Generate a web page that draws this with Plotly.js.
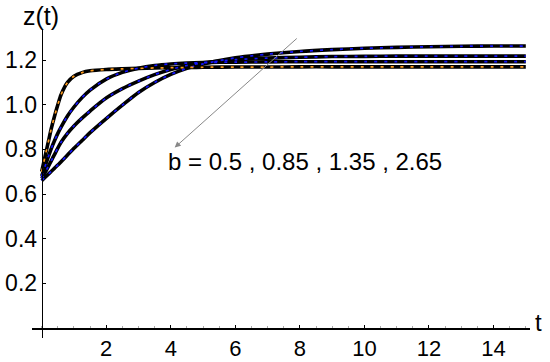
<!DOCTYPE html>
<html>
<head>
<meta charset="utf-8">
<script src="https://cdn.plot.ly/plotly-3.0.1.min.js"></script>
<style>html,body{margin:0;padding:0;background:#fff;}#chart{width:550px;height:362px;}</style>
</head>
<body>
<div id="chart"></div>
<script>
// time samples
var tVals = [0, 0.1, 0.2, 0.3, 0.4, 0.5, 0.6, 0.8, 1.0, 1.25, 1.5, 2, 2.5, 3, 3.5, 4, 4.5, 5, 6, 7, 8, 9, 10, 11, 12, 13, 14, 15];
// series
var zB050 = [0.660, 0.674, 0.688, 0.702, 0.716, 0.730, 0.745, 0.775, 0.805, 0.840, 0.875, 0.938, 0.998, 1.055, 1.100, 1.136, 1.163, 1.183, 1.210, 1.227, 1.239, 1.247, 1.253, 1.257, 1.260, 1.262, 1.263, 1.263];
var zB085 = [0.670, 0.695, 0.722, 0.750, 0.778, 0.806, 0.832, 0.872, 0.905, 0.940, 0.972, 1.030, 1.072, 1.106, 1.135, 1.158, 1.176, 1.188, 1.202, 1.209, 1.213, 1.216, 1.217, 1.218, 1.218, 1.218, 1.218, 1.218];
var zB135 = [0.680, 0.722, 0.765, 0.805, 0.840, 0.872, 0.900, 0.950, 0.990, 1.032, 1.066, 1.115, 1.145, 1.164, 1.176, 1.183, 1.187, 1.189, 1.191, 1.192, 1.193, 1.193, 1.193, 1.193, 1.193, 1.193, 1.193, 1.193];
var zB265 = [0.700, 0.765, 0.830, 0.895, 0.950, 1.000, 1.045, 1.100, 1.128, 1.144, 1.152, 1.158, 1.161, 1.163, 1.165, 1.166, 1.167, 1.168, 1.169, 1.169, 1.170, 1.170, 1.170, 1.170, 1.170, 1.170, 1.170, 1.170];
var seriesList = [zB050, zB085, zB135, zB265];
var overlayColors = ['#1414ff', '#1414ff', '#1414ff', '#ff9a1a'];
var xTicks = [2, 4, 6, 8, 10, 12, 14];
var yTicks = [0.2, 0.4, 0.6, 0.8, 1.0, 1.2];
var yTickText = ['0.2', '0.4', '0.6', '0.8', '1.0', '1.2'];
var annText = 'b = 0.5 , 0.85 , 1.35 , 2.65';

var traces = [];
seriesList.forEach(function (s) {
  traces.push({x: tVals, y: s, type: 'scatter', mode: 'lines',
    line: {color: '#000', width: 3.6, shape: 'spline', smoothing: 0.8}, hoverinfo: 'skip'});
});
seriesList.forEach(function (s, i) {
  traces.push({x: tVals, y: s, type: 'scatter', mode: 'lines',
    line: {color: overlayColors[i], width: 1.7, dash: '3px,7px', shape: 'spline', smoothing: 0.8}, hoverinfo: 'skip'});
});

var W = 550, H = 362, mL = 31.6, mR = 20, mT = 30, mB = 24;
function pxX(px) { return (px - mL) / (W - mL - mR); }
function pxY(py) { return (H - mB - py) / (H - mT - mB); }

var xr = [-0.3, 15.13], yr = [-0.045, 1.335];
var fam = 'Liberation Sans, Arial, sans-serif';
var layout = {
  width: W, height: H,
  margin: {l: mL, r: mR, t: mT, b: mB},
  paper_bgcolor: '#fff', plot_bgcolor: '#fff',
  showlegend: false,
  font: {family: fam, color: '#000'},
  xaxis: {range: xr, anchor: 'free', position: (0 - yr[0]) / (yr[1] - yr[0]),
    showgrid: false, zeroline: false, showline: true, linecolor: '#000', linewidth: 1.6,
    tickvals: xTicks, ticks: 'inside', ticklen: 3, tickcolor: '#000', tickwidth: 1,
    tickfont: {size: 22, family: fam, color: '#000'},
    minor: {dtick: 0.5, ticks: 'inside', ticklen: 2, tickcolor: '#aaa', tick0: 0}},
  yaxis: {range: yr, anchor: 'free', position: (0 - xr[0]) / (xr[1] - xr[0]),
    showgrid: false, zeroline: false, showline: true, linecolor: '#000', linewidth: 1.6,
    tickvals: yTicks, ticktext: yTickText, ticks: 'inside', ticklen: 3, tickcolor: '#000', tickwidth: 1,
    tickfont: {size: 23, family: fam, color: '#000'}},
  annotations: [
    {x: 4.12, y: 0.808, ax: 7.95, ay: 1.303, xref: 'x', yref: 'y', axref: 'x', ayref: 'y',
      text: '', showarrow: true, arrowhead: 2, arrowsize: 1.2, arrowwidth: 1, arrowcolor: '#888'},
    {x: 3.85, y: 0.748, xref: 'x', yref: 'y', text: annText, showarrow: false,
      xanchor: 'left', yanchor: 'middle', font: {size: 24, color: '#000'}},
    {x: pxX(41), y: pxY(16), xref: 'paper', yref: 'paper', text: 'z(t)', showarrow: false,
      xanchor: 'center', yanchor: 'middle', font: {size: 25, color: '#000'}},
    {x: pxX(539), y: pxY(322), xref: 'paper', yref: 'paper', text: 't', showarrow: false,
      xanchor: 'center', yanchor: 'middle', font: {size: 24, color: '#000'}}
  ]
};
Plotly.newPlot('chart', traces, layout, {displayModeBar: false, staticPlot: true});
</script>
</body>
</html>
